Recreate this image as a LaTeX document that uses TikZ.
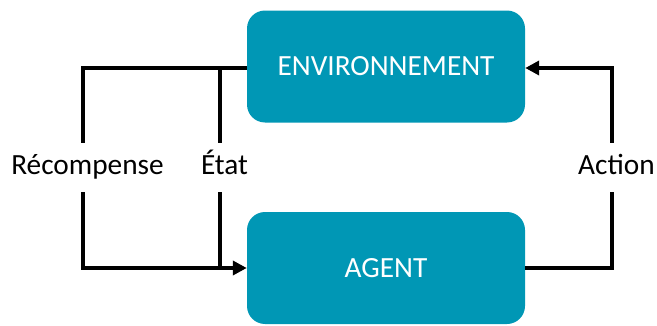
\documentclass[tikz,border=0pt]{standalone}
\usepackage{fontspec}
\setmainfont{Carlito}
\usetikzlibrary{arrows.meta}
\definecolor{boxteal}{RGB}{0,151,181}
\begin{document}
\begin{tikzpicture}[x=1pt,y=1pt,
  box/.style={fill=boxteal, draw=none, rounded corners=18pt, minimum width=278pt, minimum height=112pt, text=white, font=\fontsize{29.3}{31}\selectfont, inner sep=0pt},
  conn/.style={line width=4pt, draw=black},
  tip/.style={-{Triangle[length=14pt,width=14pt]}},
  lbl/.style={fill=white, font=\fontsize{29.3}{31}\selectfont, text height=20pt, text depth=6pt, inner xsep=2pt, inner ysep=11.5pt}
]
\useasboundingbox (0,0) rectangle (657,325);
\node[box] (env) at (386,258.5) {ENVIRONNEMENT};
\node[box] (agent) at (386,57) {AGENT};
\coordinate (tl) at (83,257);
\coordinate (bl) at (83,57);
\coordinate (et) at (220,257);
\coordinate (eb) at (220,57);
\coordinate (tr) at (612,257);
\coordinate (br) at (612,57);
\draw[conn] (env.west |- tl) -- (tl) -- (bl) -- (eb);
\draw[conn, tip] (eb) -- (agent.west |- bl);
\draw[conn] (et) -- (eb);
\draw[conn, tip] (agent.east |- br) -- (br) -- (tr) -- (env.east |- tr);
\node[lbl] (rec) at (87.5,157.5) {Récompense};
\node[lbl] (etat) at (224.5,157.5) {État};
\node[lbl] (act) at (616.5,157.5) {Action};
\end{tikzpicture}
\end{document}
